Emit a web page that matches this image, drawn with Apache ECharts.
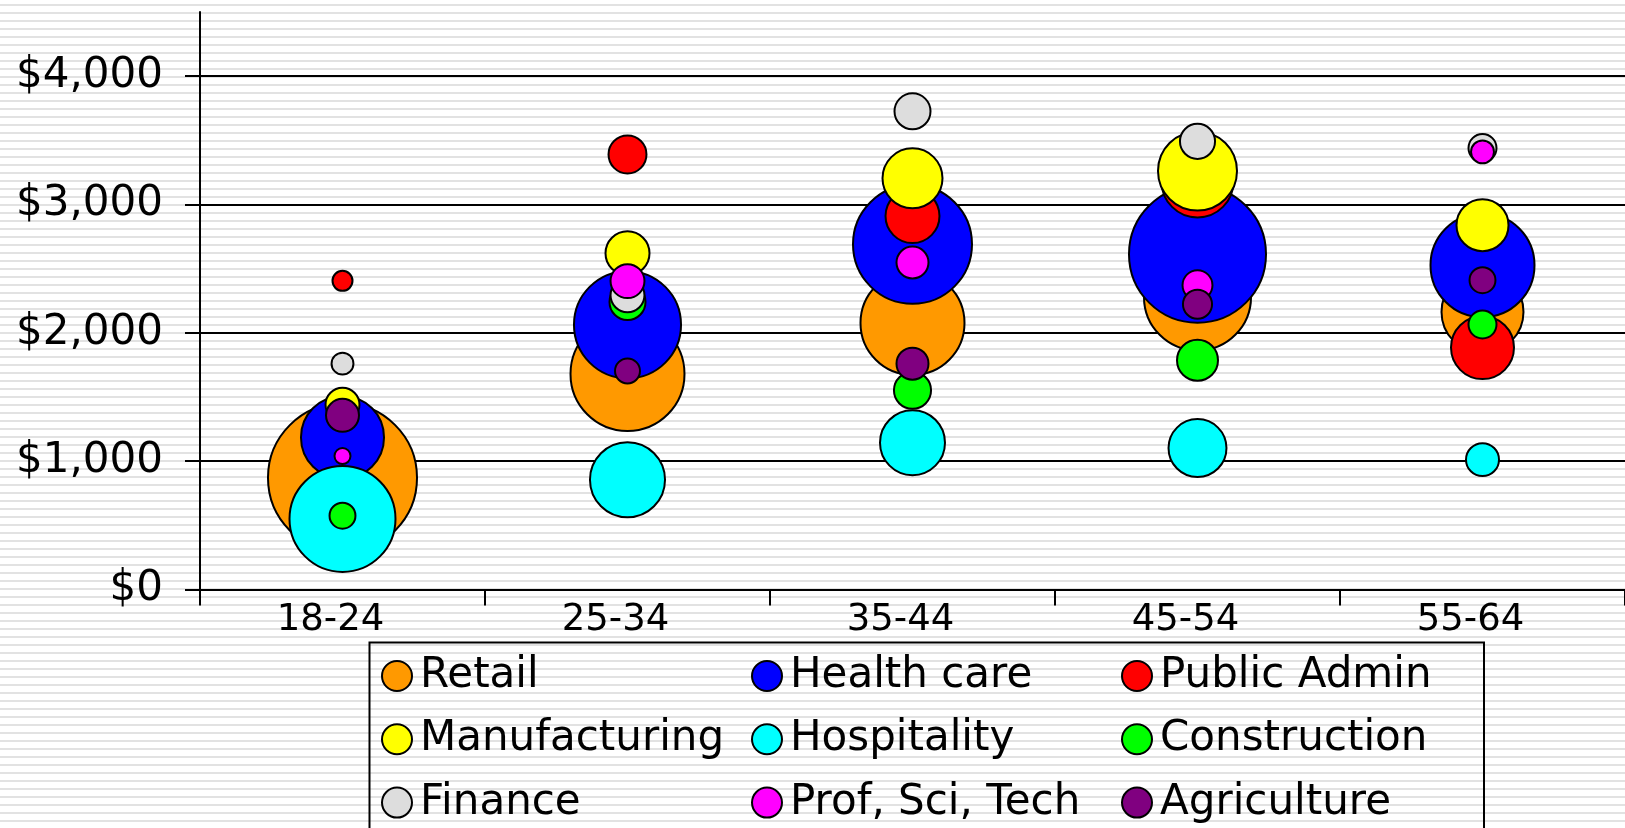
<!DOCTYPE html>
<html>
<head>
<meta charset="utf-8">
<script src="https://cdn.jsdelivr.net/npm/echarts@6/dist/echarts.min.js"></script>
<style>
  html, body { margin: 0; padding: 0; width: 1625px; height: 828px; overflow: hidden; }
  body {
    background: repeating-linear-gradient(to bottom, #ffffff 0px, #ffffff 4px, #e2e2e2 4px, #e2e2e2 6px, #ffffff 6px, #ffffff 8px);
  }
  #chart { width: 1625px; height: 828px; }
</style>
</head>
<body>
<div id="chart"></div>
<script>
// ---- data ----
const categories = ['18-24', '25-34', '35-44', '45-54', '55-64'];
const industries = ['Retail', 'Health care', 'Public Admin', 'Manufacturing', 'Hospitality', 'Construction', 'Finance', 'Prof, Sci, Tech', 'Agriculture'];
const yTickValues = [0, 1000, 2000, 3000, 4000];

// monthly earnings by age group
const retailEarnings        = [870, 1680, 2077, 2280, 2163];
const healthEarnings        = [1185, 2063, 2690, 2613, 2527];
const publicAdminEarnings   = [2405, 3390, 2910, 3180, 1885];
const manufacturingEarnings = [1440, 2620, 3204, 3261, 2839];
const hospitalityEarnings   = [550, 855, 1144, 1102, 1012];
const constructionEarnings  = [575, 2240, 1552, 1786, 2065];
const financeEarnings       = [1760, 2293, 3726, 3492, 3440];
const profSciTechEarnings   = [1040, 2403, 2548, 2371, 3410];
const agricultureEarnings   = [1357, 1703, 1760, 2223, 2410];

// bubble size (relative employment)
const retailSize        = [1388, 812, 676, 716, 420];
const healthSize        = [431, 716, 885, 1173, 676];
const publicAdminSize   = [25, 90, 182, 324, 248];
const manufacturingSize = [72, 121, 225, 390, 169];
const hospitalitySize   = [702, 352, 264, 210, 68];
const constructionSize  = [42, 81, 86, 105, 49];
const financeSize       = [30, 72, 81, 77, 49];
const profSciTechSize   = [16, 72, 64, 56, 33];
const agricultureSize   = [68, 39, 64, 53, 42];

const earnings = [retailEarnings, healthEarnings, publicAdminEarnings, manufacturingEarnings,
  hospitalityEarnings, constructionEarnings, financeEarnings, profSciTechEarnings, agricultureEarnings];
const sizes = [retailSize, healthSize, publicAdminSize, manufacturingSize,
  hospitalitySize, constructionSize, financeSize, profSciTechSize, agricultureSize];
const colors = ['#FF9900', '#0000FF', '#FF0000', '#FFFF00', '#00FFFF', '#00FF00', '#DDDDDD', '#FF00FF', '#800080'];

const FONT = 'DejaVu Sans';

const series = industries.map((name, i) => ({
  name: name,
  type: 'scatter',
  z: 2,
  data: categories.map((c, j) => [j, earnings[i][j], sizes[i][j]]),
  symbol: 'circle',
  symbolSize: v => Math.sqrt(v[2]) * 4,
  itemStyle: { color: colors[i], borderColor: '#000', borderWidth: 2, opacity: 1 },
  emphasis: { disabled: true }
}));

const legendCommon = {
  orient: 'vertical',
  padding: 0,
  itemWidth: 36,
  itemHeight: 30,
  itemGap: 21.3,
  icon: 'circle',
  selectedMode: false,
  itemStyle: { borderColor: '#000', borderWidth: 2 },
  textStyle: { fontFamily: FONT, fontSize: 42, color: '#000', lineHeight: 40 }
};

const chart = echarts.init(document.getElementById('chart'), null, { renderer: 'canvas' });
chart.setOption({
  animation: false,
  backgroundColor: 'transparent',
  grid: { left: 200, right: -2.5, top: 12, bottom: 238.5, containLabel: false },
  xAxis: {
    type: 'category',
    data: categories,
    boundaryGap: true,
    axisLine: { show: true, lineStyle: { color: '#000', width: 2 } },
    axisTick: { show: true, length: 16, lineStyle: { color: '#000', width: 2 } },
    axisLabel: { fontFamily: FONT, fontSize: 37, color: '#000', margin: 12, padding: [0, 24, 0, 0] },
    splitLine: { show: false }
  },
  yAxis: {
    type: 'value',
    min: 0,
    max: 4500,
    interval: 1000,
    axisLine: { show: true, lineStyle: { color: '#000', width: 2 } },
    axisTick: { show: true, length: 15, customValues: yTickValues, lineStyle: { color: '#000', width: 2 } },
    axisLabel: {
      fontFamily: FONT, fontSize: 42, color: '#000', margin: 37,
      customValues: yTickValues,
      formatter: v => (v % 1000 === 0 ? '$' + v.toLocaleString('en-US') : '')
    },
    splitLine: { show: true, lineStyle: { color: ['#000', '#000', '#000', '#000', '#000', 'rgba(0,0,0,0)'], width: 2 } }
  },
  legend: [
    Object.assign({}, legendCommon, { left: 381, top: 655, data: [industries[0], industries[3], industries[6]] }),
    Object.assign({}, legendCommon, { left: 751, top: 655, data: [industries[1], industries[4], industries[7]] }),
    Object.assign({}, legendCommon, { left: 1121, top: 655, data: [industries[2], industries[5], industries[8]] })
  ],
  graphic: [{
    type: 'rect',
    silent: true,
    z: 0,
    shape: { x: 369.5, y: 642.5, width: 1114.5, height: 300 },
    style: { fill: 'none', stroke: '#000', lineWidth: 2 }
  }],
  series: series
});
</script>
</body>
</html>
